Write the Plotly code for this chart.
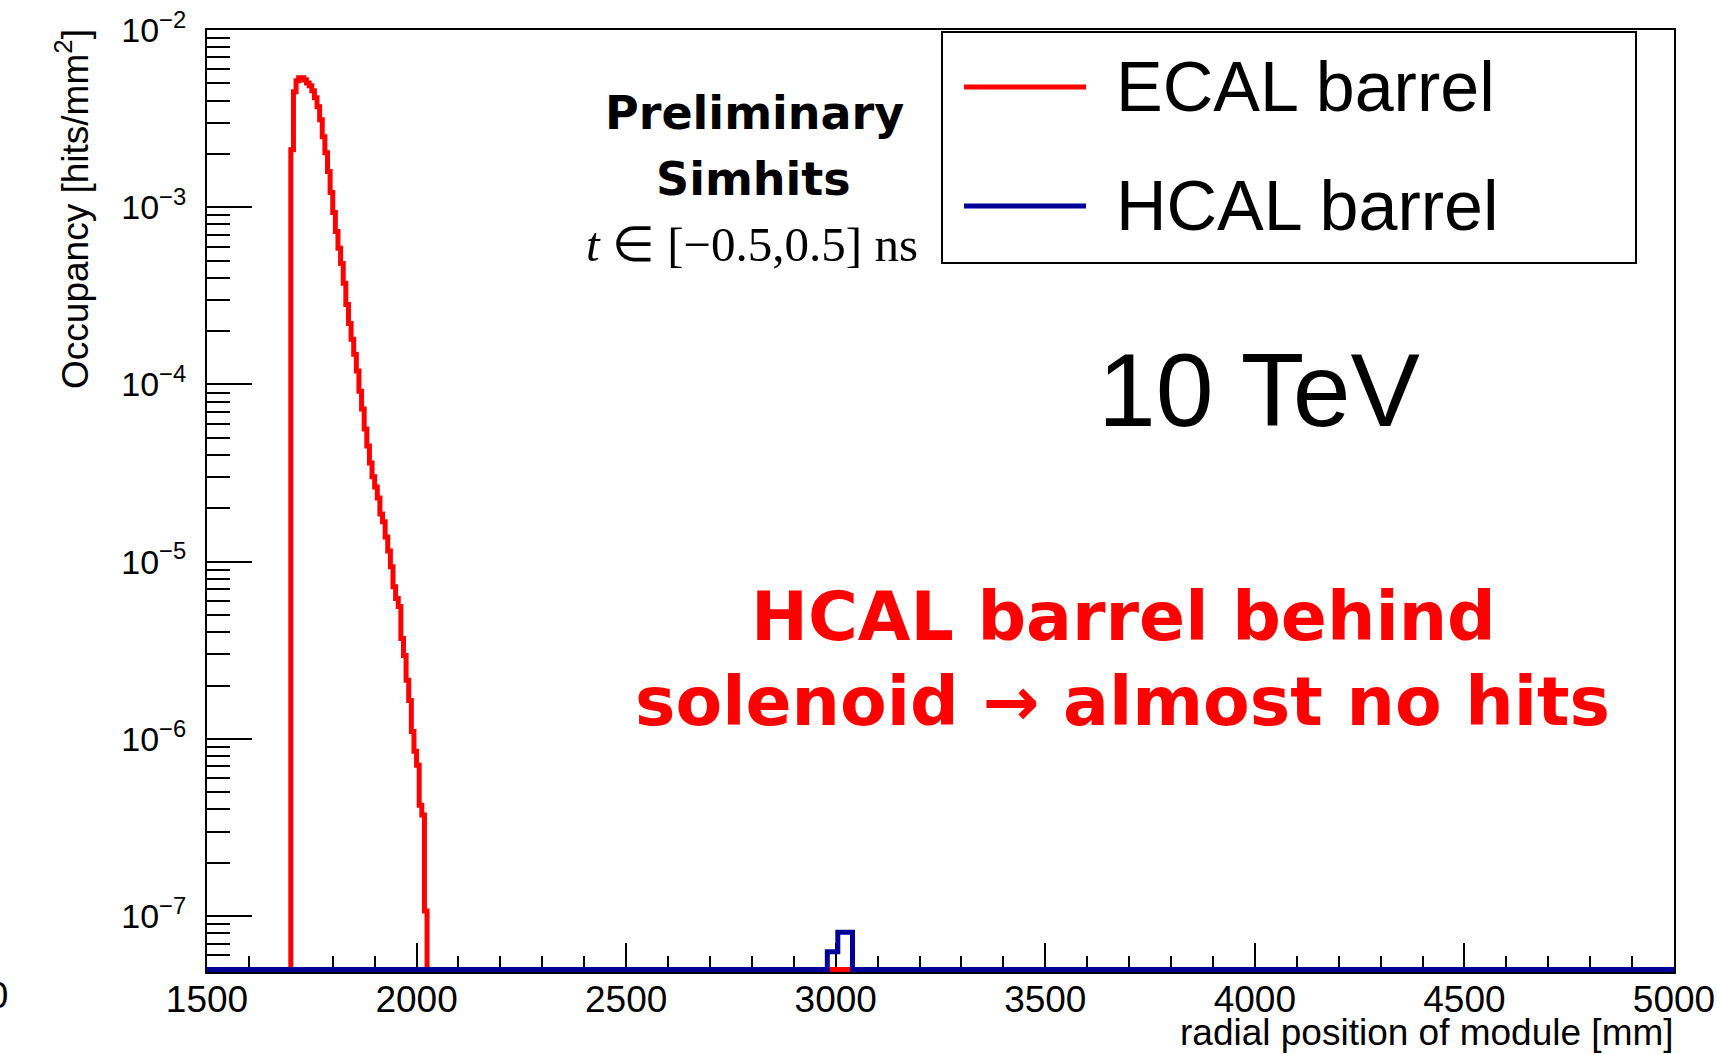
import math
import plotly.graph_objects as go

# ---------------- data ----------------
# ECAL barrel occupancy per radial bin (hits/mm^2), bins of fixed width from ecal_start
ecal_start = 1700.0
ecal_width = 6.25
ecal_values = [
    2.11e-3, 4.48e-3, 5.17e-3, 5.37e-3, 5.37e-3, 5.23e-3, 5.03e-3, 4.84e-3,
    4.54e-3, 4.15e-3, 3.69e-3, 3.12e-3, 2.50e-3, 2.03e-3, 1.59e-3, 1.21e-3,
    9.34e-4, 7.30e-4, 5.86e-4, 4.82e-4, 3.72e-4, 2.83e-4, 2.21e-4, 1.80e-4,
    1.48e-4, 1.19e-4, 9.17e-5, 7.26e-5, 5.61e-5, 4.50e-5, 3.61e-5, 3.01e-5,
    2.64e-5, 2.29e-5, 1.86e-5, 1.68e-5, 1.38e-5, 1.15e-5, 9.37e-6, 7.23e-6,
    6.19e-6, 5.58e-6, 3.69e-6, 2.96e-6, 2.14e-6, 1.65e-6, 1.10e-6, 8.52e-7,
    7.11e-7, 4.23e-7, 3.72e-7, 1.07e-7,
]

# HCAL barrel: only two non-empty bins
hcal_edges = [2980.0, 3005.0, 3040.0]
hcal_values = [6.3e-8, 8.1e-8]

series_names = ["ECAL barrel", "HCAL barrel"]
series_colors = ["#ff0000", "#000099"]

x_range = [1500, 5000]
y_min, y_max = 5e-8, 1e-2
y_major = [1e-7, 1e-6, 1e-5, 1e-4, 1e-3, 1e-2]
y_major_text = ["10<sup>\u22127</sup>", "10<sup>\u22126</sup>", "10<sup>\u22125</sup>",
                "10<sup>\u22124</sup>", "10<sup>\u22123</sup>", "10<sup>\u22122</sup>"]

# ---------------- geometry ----------------
W, H = 1717, 1054
ML, MR, MT = 207, 43, 30
Y_FRAME = 970                # pixel row of the frame bottom (y_min)
EXTRA = 2.5                  # room below the frame so the empty-bin line is not clipped
MB = H - Y_FRAME - EXTRA
PW, PH = W - ML - MR, H - MT - MB
decade_px = (Y_FRAME - MT) / (math.log10(y_max) - math.log10(y_min))
y_lo_axis = math.log10(y_min) - EXTRA / decade_px
LW = 5


def px(X):
    return (X - ML) / PW


def py(Y):
    return (H - MB - Y) / PH


floor = y_min  # empty bins sit on the bottom of the frame, as in ROOT log plots


def step_path(edges, values, lo, hi):
    xs = [lo] + list(edges)
    ys = [floor] + list(values) + [floor]
    xs.append(hi)
    ys.append(floor)
    return xs, ys


ecal_edges = [ecal_start + i * ecal_width for i in range(len(ecal_values) + 1)]
ex, ey = step_path(ecal_edges, ecal_values, x_range[0], x_range[1])
hx, hy = step_path(hcal_edges, hcal_values, x_range[0], x_range[1])

fig = go.Figure()
fig.add_trace(go.Scatter(x=ex, y=ey, mode="lines", line=dict(color=series_colors[0], width=LW, shape="hv"),
                         name=series_names[0], showlegend=False))
fig.add_trace(go.Scatter(x=hx, y=hy, mode="lines", line=dict(color=series_colors[1], width=LW, shape="hv"),
                         name=series_names[1], showlegend=False))

# minor ticks of the log axis: 2..9 x each decade
minor_y = []
for d in range(-8, -1):
    for m in range(2, 10):
        v = m * 10.0 ** d
        if y_min <= v <= y_max:
            minor_y.append(v)

sans = "Liberation Sans, Arial, Helvetica, sans-serif"
heavy = "DejaVu Sans, Verdana, sans-serif"

fig.update_layout(
    width=W, height=H,
    margin=dict(l=ML, r=MR, t=MT, b=MB, pad=0),
    paper_bgcolor="white", plot_bgcolor="white",
    font=dict(family=sans, color="black"),
    showlegend=False,
    xaxis=dict(
        range=x_range, showgrid=False, zeroline=False, automargin=False,
        showline=True, linecolor="black", linewidth=2, mirror=True,
        ticks="inside", ticklen=29, tickwidth=1.5, tickcolor="black",
        tickmode="linear", tick0=1500, dtick=500,
        tickfont=dict(family=sans, size=37, color="black"),
        ticklabelstandoff=-6,
        minor=dict(dtick=100, ticks="inside", ticklen=16, tickwidth=1.5, tickcolor="black"),
        layer="below traces",
    ),
    yaxis=dict(
        type="log", range=[y_lo_axis, math.log10(y_max)],
        showgrid=False, zeroline=False, automargin=False,
        showline=True, linecolor="black", linewidth=2, mirror=True,
        ticks="inside", ticklen=45, tickwidth=1.5, tickcolor="black",
        tickmode="array", tickvals=y_major, ticktext=y_major_text,
        tickfont=dict(family=sans, size=34, color="black"),
        ticklabelstandoff=12,
        minor=dict(tickmode="array", tickvals=minor_y, ticks="inside", ticklen=23,
                   tickwidth=1.5, tickcolor="black"),
        layer="below traces",
    ),
)

ann = []
# axis titles
ann.append(dict(text="radial position of module [mm]", x=px(1676), y=py(1033), xanchor="right",
                yanchor="middle", font=dict(family=sans, size=37)))
ann.append(dict(text="Occupancy [hits/mm<sup>2</sup>]", x=px(73), y=py(209), xanchor="center",
                yanchor="middle", textangle=-90, font=dict(family=sans, size=37)))
# label of the neighbouring pad, cut at the left edge
ann.append(dict(text="5000", x=px(10), y=py(996), xanchor="right", yanchor="middle",
                font=dict(family=sans, size=37)))

# header texts
ann.append(dict(text="<b>Preliminary</b>", x=px(754), y=py(113), xanchor="center", yanchor="middle",
                font=dict(family=heavy, size=46)))
ann.append(dict(text="<b>Simhits</b>", x=px(753), y=py(179), xanchor="center", yanchor="middle",
                font=dict(family=heavy, size=46)))
ann.append(dict(text="<i>t</i> \u2208 [\u22120.5,0.5] ns", x=px(752), y=py(245), xanchor="center",
                yanchor="middle", font=dict(family="Liberation Serif, Times New Roman, serif", size=49)))
ann.append(dict(text="10 TeV", x=px(1259), y=py(390), xanchor="center", yanchor="middle",
                font=dict(family=sans, size=104)))
ann.append(dict(text="<b>HCAL barrel behind</b>", x=px(1123), y=py(617), xanchor="center", yanchor="middle",
                font=dict(family=heavy, size=68, color="#ff0000")))
ann.append(dict(text="<b>solenoid \u2192 almost no hits</b>", x=px(1122), y=py(702), xanchor="center",
                yanchor="middle", font=dict(family=heavy, size=68, color="#ff0000")))

# legend box
leg_rows = [87, 206]
shapes = [dict(type="rect", xref="paper", yref="paper", x0=px(942), x1=px(1636), y0=py(263), y1=py(32),
               line=dict(color="black", width=2), fillcolor="white", layer="below")]
for name, color, row in zip(series_names, series_colors, leg_rows):
    shapes.append(dict(type="line", xref="paper", yref="paper", x0=px(964), x1=px(1086), y0=py(row), y1=py(row),
                       line=dict(color=color, width=LW)))
    ann.append(dict(text=name, x=px(1114), y=py(row), xanchor="left", yanchor="middle",
                    font=dict(family=sans, size=70)))

for a in ann:
    a.update(xref="paper", yref="paper", showarrow=False)
fig.update_layout(annotations=ann, shapes=shapes)

fig.write_html("out.html")
